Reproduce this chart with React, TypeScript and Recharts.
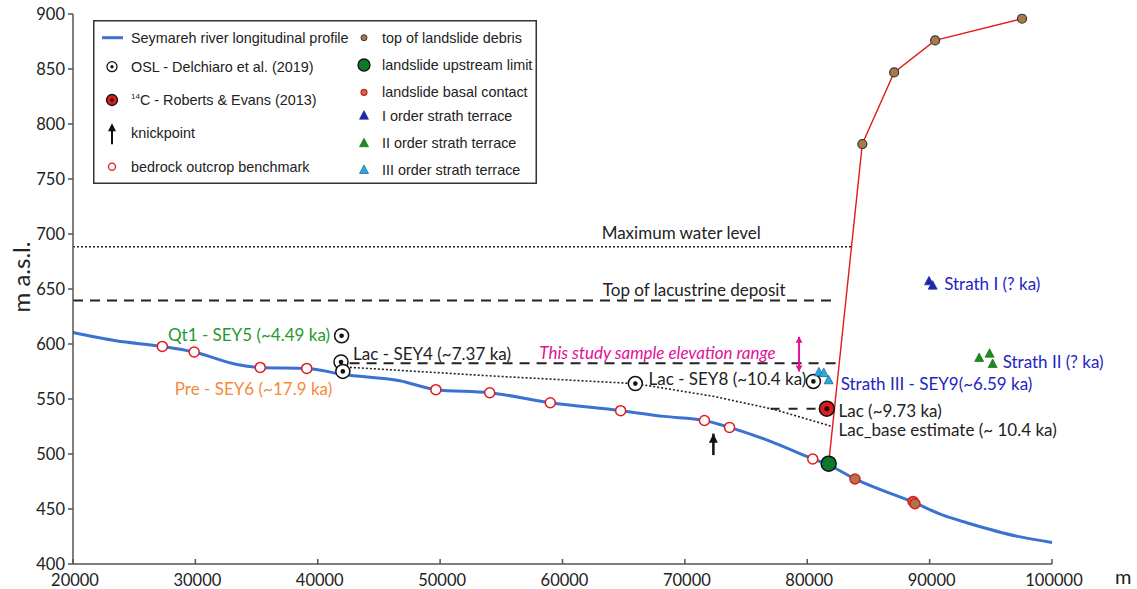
import React from 'react'
import { ComposedChart, Line, Scatter, XAxis, YAxis, Legend } from 'recharts'

type Pt = { x: number; y: number }

const FONT = "Lato, 'Open Sans', sans-serif"
const LEGEND_FONT = "'Liberation Sans', Arial, sans-serif"

const xTicks = [20000, 30000, 40000, 50000, 60000, 70000, 80000, 90000, 100000]
const yTicks = [400, 450, 500, 550, 600, 650, 700, 750, 800, 850, 900]

// Seymareh river longitudinal profile (m, m a.s.l.)
const riverProfile: Pt[] = [
  { x: 20000, y: 610.5 }, { x: 23500, y: 603 }, { x: 27300, y: 597.8 }, { x: 29900, y: 592.7 },
  { x: 33400, y: 581.4 }, { x: 35300, y: 578.7 }, { x: 39100, y: 577.8 }, { x: 42100, y: 572.3 },
  { x: 46700, y: 566.6 }, { x: 49650, y: 558.5 }, { x: 54050, y: 555.7 }, { x: 59000, y: 546.6 },
  { x: 64750, y: 539.4 }, { x: 68300, y: 534.2 }, { x: 71600, y: 530.5 }, { x: 73650, y: 524.2 },
  { x: 77000, y: 511.5 }, { x: 80450, y: 495.5 }, { x: 81750, y: 490 }, { x: 83900, y: 477.3 },
  { x: 88750, y: 455.8 }, { x: 91200, y: 443.9 }, { x: 93100, y: 437.3 }, { x: 97200, y: 425.1 },
  { x: 100000, y: 419.6 },
]

const bedrockBenchmarks: Pt[] = [
  { x: 27300, y: 597.8 }, { x: 29900, y: 592.7 }, { x: 35300, y: 578.7 }, { x: 39100, y: 577.8 },
  { x: 49650, y: 558.5 }, { x: 54050, y: 555.7 }, { x: 59000, y: 546.6 }, { x: 64750, y: 539.4 },
  { x: 71600, y: 530.5 }, { x: 73650, y: 524.2 }, { x: 80450, y: 495.5 },
]
const oslSamples: Pt[] = [
  { x: 41950, y: 607.5 }, { x: 41900, y: 583.6 }, { x: 42050, y: 575.1 },
  { x: 65950, y: 564 }, { x: 80500, y: 566 },
]
const c14Samples: Pt[] = [{ x: 81600, y: 541.2 }]
const landslideUpstream: Pt[] = [{ x: 81750, y: 491.2 }]
const basalContact: Pt[] = [{ x: 83900, y: 477.3 }, { x: 88650, y: 456.9 }, { x: 88800, y: 454.8 }]
const debrisTop: Pt[] = [{ x: 84500, y: 781.8 }, { x: 87100, y: 846.9 }, { x: 90450, y: 876 }, { x: 97550, y: 895.7 }]
const landslideFront: Pt[] = [landslideUpstream[0], ...debrisTop]
const strathI: Pt[] = [{ x: 89950, y: 657 }, { x: 90250, y: 653 }]
const strathII: Pt[] = [{ x: 94050, y: 587.3 }, { x: 94900, y: 591.2 }, { x: 95150, y: 581.8 }]
const strathIII: Pt[] = [{ x: 80950, y: 574.2 }, { x: 81350, y: 573.5 }, { x: 81750, y: 567 }]

const maxWaterLevel: Pt[] = [{ x: 20000, y: 688.5 }, { x: 83700, y: 688.5 }]
const lacustrineTop: Pt[] = [{ x: 20000, y: 639.6 }, { x: 82350, y: 639.6 }]
const sey4Level: Pt[] = [{ x: 42600, y: 582.5 }, { x: 82350, y: 582.5 }]
const lacLevel: Pt[] = [{ x: 77000, y: 541.2 }, { x: 81600, y: 541.2 }]
const lacBase: Pt[] = [
  { x: 42300, y: 579 }, { x: 54900, y: 570.5 }, { x: 65950, y: 564 },
  { x: 72300, y: 552.5 }, { x: 77300, y: 540.5 }, { x: 82050, y: 525 },
]
const knickpoint: Pt[] = [{ x: 72330, y: 499 }, { x: 72330, y: 518.5 }]
const sampleRange: Pt[] = [{ x: 79330, y: 575 }, { x: 79330, y: 606.5 }]

const annotations = [
  { x: 69700, y: 701, text: 'Maximum water level', anchor: 'middle' },
  { x: 70760, y: 649.5, text: 'Top of lacustrine deposit', anchor: 'middle' },
  { x: 58100, y: 592, text: 'This study sample elevation range', color: '#e0119a', italic: true },
  { x: 67030, y: 569, text: 'Lac - SEY8 (~10.4 ka)' },
  { x: 82730, y: 564.5, text: 'Strath III - SEY9(~6.59 ka)', color: '#2424c4' },
  { x: 82550, y: 539.4, text: 'Lac (~9.73 ka)' },
  { x: 82550, y: 522.1, text: 'Lac_base estimate (~ 10.4 ka)' },
  { x: 95970, y: 584.2, text: 'Strath II (? ka)', color: '#2424c4' },
  { x: 91190, y: 654.8, text: 'Strath I (? ka)', color: '#2424c4' },
  { x: 41010, y: 608.5, text: 'Qt1 - SEY5 (~4.49 ka)', anchor: 'end', color: '#1f9a2f' },
  { x: 42890, y: 591.8, text: 'Lac - SEY4 (~7.37 ka)' },
  { x: 28320, y: 560, text: 'Pre - SEY6 (~17.9 ka)', color: '#f7883a' },
]

const BROWN = '#a9794a'
const RED = '#e3191c'

const ringDot = (fill: string, stroke: string, r: number, sw = 1.5) => (p: any) => (
  <circle cx={p.cx} cy={p.cy} r={r} fill={fill} stroke={stroke} strokeWidth={sw} />
)
const oslDot = (p: any) => (
  <g>
    <circle cx={p.cx} cy={p.cy} r={7} fill="#fff" stroke="#111" strokeWidth={1.5} />
    <circle cx={p.cx} cy={p.cy} r={2.3} fill="#111" />
  </g>
)
const c14Dot = (p: any) => (
  <g>
    <circle cx={p.cx} cy={p.cy} r={7.5} fill={RED} stroke="#111" strokeWidth={1.5} />
    <circle cx={p.cx} cy={p.cy} r={2.5} fill="#111" />
  </g>
)
const triangle = (fill: string, stroke: string) => (p: any) => (
  <polygon
    points={`${p.cx},${p.cy - 5} ${p.cx + 4.5},${p.cy + 3.5} ${p.cx - 4.5},${p.cy + 3.5}`}
    fill={fill} stroke={stroke} strokeWidth={0.7}
  />
)

const arrowHeads = (color: string, w: number, h: number, both: boolean) => (p: any) => {
  const { cx, cy, index } = p
  if (index === 0 && !both) return <g key={`a${index}`} />
  const dir = index === 0 ? -1 : 1 // 1 = pointing up
  return (
    <polygon
      key={`a${index}`}
      points={`${cx},${cy} ${cx - w},${cy + dir * h} ${cx + w},${cy + dir * h}`}
      fill={color}
    />
  )
}

const AnnotationText = (p: any) => {
  const d = p.payload
  return (
    <text
      x={p.cx} y={p.cy} dominantBaseline="central" textAnchor={d.anchor ?? 'start'}
      fill={d.color ?? '#222'} fontStyle={d.italic ? 'italic' : 'normal'}
      fontSize={17} fontFamily={FONT}
    >
      {d.text}
    </text>
  )
}

const XTick = (p: any) => (
  <g>
    <line x1={p.x} x2={p.x} y1={p.y} y2={p.y - 5} stroke="#555" strokeWidth={1.5} />
    <text x={p.x + 2} y={p.y + 16} textAnchor="middle" dominantBaseline="central" fontSize={16.5} fontFamily={FONT} fill="#222">
      {p.payload.value}
    </text>
  </g>
)

const legendLeft = [
  { kind: 'line', label: 'Seymareh river longitudinal profile', y: 17.7 },
  { kind: 'osl', label: 'OSL - Delchiaro et al. (2019)', y: 46.7 },
  { kind: 'c14', label: 'C - Roberts & Evans (2013)', y: 80 },
  { kind: 'arrow', label: 'knickpoint', y: 113.3 },
  { kind: 'bedrock', label: 'bedrock outcrop benchmark', y: 146.7 },
]
const legendRight = [
  { kind: 'debris', label: 'top of landslide debris', y: 17.7 },
  { kind: 'upstream', label: 'landslide upstream limit', y: 45 },
  { kind: 'basal', label: 'landslide basal contact', y: 72.3 },
  { kind: 'tri1', label: 'I order strath terrace', y: 95.7 },
  { kind: 'tri2', label: 'II order strath terrace', y: 123.3 },
  { kind: 'tri3', label: 'III order strath terrace', y: 150 },
]

const legendIcon = (kind: string, cx: number, cy: number) => {
  switch (kind) {
    case 'line': return <line x1={cx - 10} x2={cx + 11} y1={cy} y2={cy} stroke="#3a72d2" strokeWidth={3} />
    case 'osl': return <g><circle cx={cx} cy={cy} r={5} fill="#fff" stroke="#111" strokeWidth={1.3} /><circle cx={cx} cy={cy} r={1.7} fill="#111" /></g>
    case 'c14': return <g><circle cx={cx} cy={cy} r={5.5} fill={RED} stroke="#111" strokeWidth={1.3} /><circle cx={cx} cy={cy} r={1.8} fill="#111" /></g>
    case 'arrow': return <g><line x1={cx} x2={cx} y1={cy - 4} y2={cy + 11} stroke="#111" strokeWidth={2} /><polygon points={`${cx},${cy - 10} ${cx - 4},${cy - 2} ${cx + 4},${cy - 2}`} fill="#111" /></g>
    case 'bedrock': return <circle cx={cx} cy={cy} r={3.5} fill="#fff" stroke={RED} strokeWidth={1.3} />
    case 'debris': return <circle cx={cx} cy={cy} r={3} fill={BROWN} stroke="#333" strokeWidth={1} />
    case 'upstream': return <circle cx={cx} cy={cy} r={6} fill="#0b7a2a" stroke="#111" strokeWidth={1.3} />
    case 'basal': return <circle cx={cx} cy={cy} r={3} fill={BROWN} stroke={RED} strokeWidth={1.2} />
    case 'tri1': return triangle('#1b2aa6', '#1b2aa6')({ cx, cy })
    case 'tri2': return triangle('#1c8c1c', '#176f17')({ cx, cy })
    case 'tri3': return triangle('#2aaad8', '#1a5a9a')({ cx, cy })
  }
  return null
}

const LegendBox = () => (
  <svg width={444} height={164} style={{ display: 'block' }}>
    <rect x={0.75} y={0.75} width={442.5} height={162.5} fill="#fff" stroke="#333" strokeWidth={1.5} />
    {legendLeft.map((it) => (
      <g key={it.label}>
        {legendIcon(it.kind, 19, it.y)}
        <text x={38} y={it.y} dominantBaseline="central" fontSize={14.4} fontFamily={LEGEND_FONT} fill="#222">
          {it.kind === 'c14' && <tspan fontSize={8} dy={-4}>14</tspan>}
          {it.kind === 'c14' ? <tspan dy={4}>{it.label}</tspan> : it.label}
        </text>
      </g>
    ))}
    {legendRight.map((it) => (
      <g key={it.label}>
        {legendIcon(it.kind, 271, it.y)}
        <text x={289} y={it.y} dominantBaseline="central" fontSize={14.4} fontFamily={LEGEND_FONT} fill="#222">
          {it.label}
        </text>
      </g>
    ))}
  </svg>
)

export default function App() {
  return (
    <div style={{ position: 'absolute', left: 0, top: 0, width: 1137, height: 589, background: '#fff' }}>
      <ComposedChart width={1137} height={589} margin={{ top: 14, right: 85, bottom: 0, left: 0 }}>
        <XAxis
          dataKey="x" type="number" domain={[20000, 100000]} ticks={xTicks}
          stroke="#555" strokeWidth={1.5} tickLine={false} tickSize={0} tickMargin={0} height={25}
          tick={XTick}
          label={{ value: 'm', position: 'right', offset: 63, fontSize: 20, fontFamily: FONT, fill: '#222' }}
        />
        <YAxis
          dataKey="y" type="number" domain={[400, 900]} ticks={yTicks} width={73}
          stroke="#555" strokeWidth={1.5} tickSize={5} tickMargin={3}
          tick={{ fontSize: 16.5, fontFamily: FONT, fill: '#222' }}
          label={(p: any) => {
            const vb = p.viewBox
            const cx = vb.x + 20
            const cy = vb.y + vb.height / 2 - 12
            return (
              <text x={cx} y={cy} transform={`rotate(-90, ${cx}, ${cy})`} textAnchor="middle" dominantBaseline="central" fontSize={24} fontFamily={FONT} fill="#222">
                m a.s.l.
              </text>
            )
          }}
        />
        <Legend
          layout="horizontal" verticalAlign="middle" align="center"
          wrapperStyle={{ left: 93, top: 20, width: 444, height: 164 }}
          content={() => <LegendBox />}
        />

        <Line data={maxWaterLevel} dataKey="y" stroke="#222" strokeWidth={1.5} strokeDasharray="2 2" dot={false} isAnimationActive={false} />
        <Line data={lacustrineTop} dataKey="y" stroke="#222" strokeWidth={2} strokeDasharray="10 7" dot={false} isAnimationActive={false} />
        <Line data={sey4Level} dataKey="y" stroke="#222" strokeWidth={2} strokeDasharray="10 7" dot={false} isAnimationActive={false} />
        <Line data={lacLevel} dataKey="y" stroke="#222" strokeWidth={2} strokeDasharray="9 9" dot={false} isAnimationActive={false} />
        <Line data={lacBase} dataKey="y" stroke="#222" strokeWidth={1.6} strokeDasharray="2 2" dot={false} isAnimationActive={false} />
        <Line data={riverProfile} dataKey="y" type="monotone" stroke="#3a72d2" strokeWidth={3} dot={false} isAnimationActive={false} />
        <Line data={landslideFront} dataKey="y" stroke={RED} strokeWidth={1.4} dot={false} isAnimationActive={false} />
        <Line data={knickpoint} dataKey="y" stroke="#111" strokeWidth={2.5} dot={arrowHeads('#111', 4.5, 9, false)} isAnimationActive={false} />
        <Line data={sampleRange} dataKey="y" stroke="#e0119a" strokeWidth={2} dot={arrowHeads('#e0119a', 3.5, 6, true)} isAnimationActive={false} />

        <Scatter data={bedrockBenchmarks} shape={ringDot('#fff', RED, 5)} isAnimationActive={false} />
        <Scatter data={basalContact} shape={ringDot(BROWN, RED, 5)} isAnimationActive={false} />
        <Scatter data={debrisTop} shape={ringDot(BROWN, '#333', 4.5, 1.2)} isAnimationActive={false} />
        <Scatter data={landslideUpstream} shape={ringDot('#0b7a2a', '#111', 7.5)} isAnimationActive={false} />
        <Scatter data={oslSamples} shape={oslDot} isAnimationActive={false} />
        <Scatter data={c14Samples} shape={c14Dot} isAnimationActive={false} />
        <Scatter data={strathI} shape={triangle('#1b2aa6', '#1b2aa6')} isAnimationActive={false} />
        <Scatter data={strathII} shape={triangle('#1c8c1c', '#176f17')} isAnimationActive={false} />
        <Scatter data={strathIII} shape={triangle('#2aaad8', '#1a5a9a')} isAnimationActive={false} />
        <Scatter data={annotations} shape={AnnotationText} isAnimationActive={false} />
      </ComposedChart>
    </div>
  )
}
